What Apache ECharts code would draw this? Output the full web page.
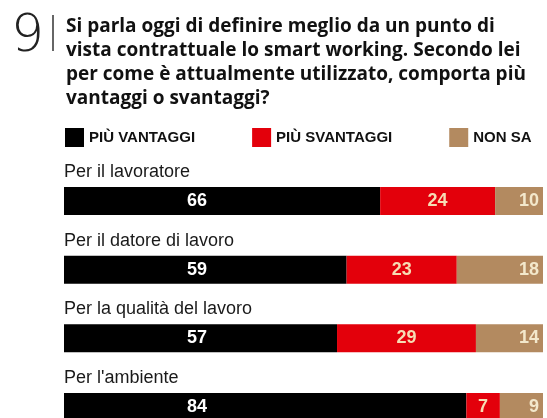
<!DOCTYPE html>
<html>
<head>
<meta charset="utf-8">
<script src="https://cdn.jsdelivr.net/npm/echarts@6/dist/echarts.min.js"></script>
<style>
html,body{margin:0;padding:0;background:#fff;}
#c{width:547px;height:418px;}
</style>
</head>
<body>
<div id="c"></div>
<script>
const categories = ['Per il lavoratore', 'Per il datore di lavoro', 'Per la qualità del lavoro', "Per l'ambiente"];
const seriesNames = ['PIÙ VANTAGGI', 'PIÙ SVANTAGGI', 'NON SA'];
const piuVantaggi = [66, 59, 57, 84];
const piuSvantaggi = [24, 23, 29, 7];
const nonSa = [10, 18, 14, 9];
const questionNumber = '9';
const questionLines = [
  'Si parla oggi di definire meglio da un punto di',
  'vista contrattuale lo smart working. Secondo lei',
  'per come è attualmente utilizzato, comporta più',
  'vantaggi o svantaggi?'
];

const colors = ['#000000', '#e3000b', '#b38a60'];
const labelColors = ['#ffffff', '#f6dcb4', '#f3e8cc'];
const fontMain = 'Liberation Sans, Arial, sans-serif';

const chart = echarts.init(document.getElementById('c'));

function barSeries(i, data, label) {
  return {
    name: seriesNames[i],
    type: 'bar',
    stack: 'total',
    barWidth: 28,
    clip: false,
    data: data,
    itemStyle: { color: colors[i] },
    label: Object.assign({
      show: true,
      color: labelColors[i],
      fontSize: 18,
      fontWeight: 'bold',
      fontFamily: fontMain
    }, label)
  };
}

const baseGraphic = [
  {
    type: 'text',
    left: 11,
    top: 11,
    style: {
      text: questionNumber,
      fontSize: 52,
      fontWeight: 200,
      fontFamily: 'DejaVu Sans, sans-serif',
      fill: '#222'
    }
  },
  {
    type: 'line',
    shape: { x1: 53, y1: 15, x2: 53, y2: 51 },
    style: { stroke: '#333', lineWidth: 1.5 }
  }
];

chart.setOption({
  animation: false,
  title: {
    text: questionLines.join('\n'),
    left: 61,
    top: 10,
    textStyle: {
      fontFamily: 'Open Sans, sans-serif',
      fontSize: 19,
      fontWeight: 'bold',
      lineHeight: 24,
      color: '#111'
    }
  },
  graphic: baseGraphic,
  legend: {
    left: 65,
    top: 128,
    padding: 0,
    itemWidth: 19,
    itemHeight: 19,
    itemGap: 57,
    icon: 'rect',
    data: seriesNames,
    textStyle: {
      fontFamily: fontMain,
      fontSize: 15,
      fontWeight: 'bold',
      color: '#111'
    }
  },
  grid: { left: 64, right: 4, top: 201, height: 206 },
  xAxis: {
    type: 'value', min: 0, max: 100, show: false
  },
  yAxis: {
    type: 'category',
    inverse: true,
    boundaryGap: false,
    data: categories,
    axisLine: { show: false },
    axisTick: { show: false },
    splitLine: { show: false },
    axisLabel: { show: false }
  },
  series: [
    barSeries(0, piuVantaggi, { position: 'insideLeft', distance: 123 }),
    barSeries(1, piuSvantaggi, { position: 'inside' }),
    barSeries(2, nonSa, { position: 'insideRight', distance: 4 })
  ]
});

const catGraphic = categories.map(function (name) {
  const y = chart.convertToPixel({ yAxisIndex: 0 }, name);
  const x = chart.convertToPixel({ xAxisIndex: 0 }, 0);
  return {
    type: 'text',
    x: x,
    y: y - 29,
    style: {
      text: name,
      fontFamily: fontMain,
      fontSize: 18,
      fill: '#1a1a1a',
      verticalAlign: 'middle',
      align: 'left'
    }
  };
});
chart.setOption({ graphic: baseGraphic.concat(catGraphic) });
</script>
</body>
</html>
